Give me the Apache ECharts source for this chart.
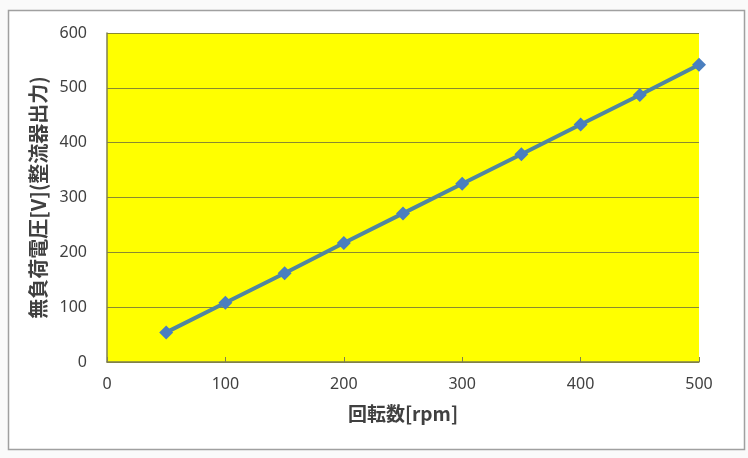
<!DOCTYPE html>
<html><head><meta charset="utf-8">
<script src="https://cdn.jsdelivr.net/npm/echarts@6/dist/echarts.min.js"></script>
<style>html,body{margin:0;padding:0;background:#fafafa}#c{width:748px;height:458px}</style>
</head><body><div id="c"></div>
<script>
const rpm = [50,100,150,200,250,300,350,400,450,500];
const voltage = [54,108,162,217,271,325,379,433,487,542];
const xTitle = '回転数[rpm]';
const yTitle = '無負荷電圧[V](整流器出力)';
const chart = echarts.init(document.getElementById('c'));
const font = '"Noto Sans CJK JP", "Noto Sans", sans-serif';
const numFont = '"Noto Sans", "DejaVu Sans", sans-serif';
chart.setOption({
  animation:false,
  backgroundColor:'#fafafa',
  graphic:[{type:'rect',shape:{x:8.5,y:10.5,width:736,height:439},style:{fill:'#ffffff',stroke:'#a0a0a0',lineWidth:1.5},z:-10}],
  grid:{left:107,right:49,top:33,bottom:96,show:true,backgroundColor:'#ffff00',borderWidth:0},
  xAxis:{type:'value',min:0,max:500,interval:100,
    name:xTitle,nameLocation:'middle',nameGap:42,
    nameTextStyle:{fontFamily:font,fontSize:19,fontWeight:'bold',color:'#404040'},
    axisLine:{show:true,lineStyle:{color:'#7f7f50',width:1.5}},
    axisTick:{show:true,inside:true,length:5,lineStyle:{color:'#7f7f50'}},
    axisLabel:{fontFamily:numFont,fontSize:16,color:'#404040',margin:14},
    splitLine:{show:false}},
  yAxis:{type:'value',min:0,max:600,interval:100,
    name:yTitle,nameLocation:'middle',nameGap:56,nameRotate:90,
    nameTextStyle:{fontFamily:font,fontSize:20,fontWeight:'bold',color:'#404040'},
    axisLine:{show:true,lineStyle:{color:'#7f7f50',width:1.5}},
    axisTick:{show:false},
    axisLabel:{fontFamily:numFont,fontSize:16,color:'#404040',margin:20},
    splitLine:{show:true,lineStyle:{color:'#8a8a30',width:1.2}}},
  series:[{type:'line',data:rpm.map((r,i)=>[r,voltage[i]]),
    symbol:'diamond',symbolSize:14,
    lineStyle:{color:'#4f86a0',width:4},
    itemStyle:{color:'#4a7fbf'}}]
});
</script></body></html>
